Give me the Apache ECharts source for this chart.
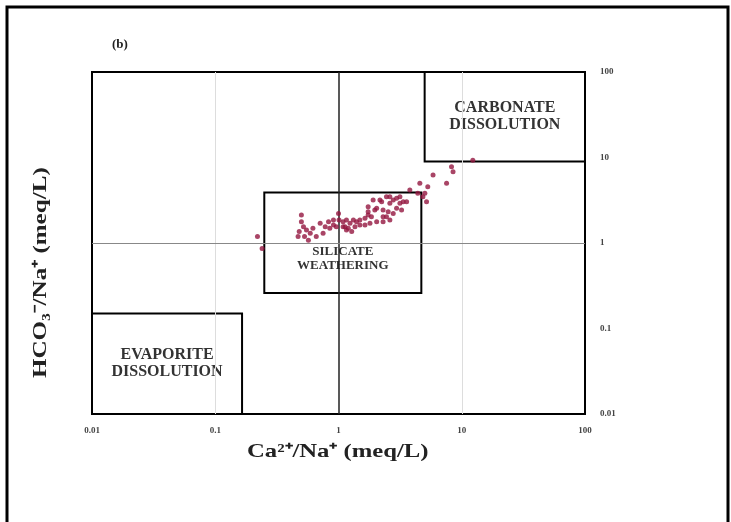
<!DOCTYPE html>
<html>
<head>
<meta charset="utf-8">
<script src="https://cdn.jsdelivr.net/npm/echarts@6/dist/echarts.min.js"></script>
<style>html,body{margin:0;padding:0;background:#fff}#c{width:731px;height:522px}</style>
</head>
<body>
<div id="c"></div>
<script>
// Ca2+/Na+ ratio (x) and HCO3-/Na+ ratio (y) for each sample
const caNa = [0.22,0.24,0.50,0.50,0.52,0.48,0.55,0.59,0.47,0.57,0.53,0.66,0.62,0.71,0.75,0.78,0.83,0.85,0.91,0.91,0.96,1.0,1.01,1.09,1.09,1.16,1.16,1.13,1.20,1.24,1.28,1.32,1.36,1.40,1.49,1.49,1.64,1.64,1.74,1.80,1.85,1.74,1.74,1.91,1.97,2.04,2.04,2.17,2.24,2.30,2.30,2.30,2.45,2.45,2.53,2.61,2.61,2.61,2.78,2.78,2.96,2.96,3.15,3.15,3.25,3.35,3.57,3.79,4.40,4.57,4.84,5.18,5.30,5.02,5.85,7.53,8.26,8.50,12.3];
const hco3Na = [1.19,0.86,2.12,1.77,1.55,1.36,1.42,1.30,1.19,1.08,1.19,1.19,1.49,1.70,1.30,1.55,1.77,1.49,1.62,1.86,1.55,2.22,1.86,1.55,1.77,1.42,1.86,1.55,1.49,1.70,1.36,1.86,1.55,1.77,1.62,1.86,1.62,1.95,2.12,1.70,2.03,2.32,2.66,3.18,2.43,1.77,2.55,3.18,3.04,1.77,2.03,2.43,2.03,3.48,2.32,1.86,2.91,3.48,2.22,3.18,2.55,3.33,2.91,3.48,2.43,3.04,3.04,4.17,3.81,4.99,3.48,3.04,4.56,3.81,6.24,4.99,7.80,6.82,9.3];
const tickLabels = ['0.01','0.1','1','10','100'];
// process boxes: [xMin, xMax, yMin, yMax]
const boxNames = ['CARBONATE\nDISSOLUTION','SILICATE\nWEATHERING','EVAPORITE\nDISSOLUTION'];
const boxX = [[5,100],[0.25,4.7],[0.01,0.165]];
const boxY = [[9,100],[0.26,3.9],[0.01,0.15]];

const points = caNa.map((x,i)=>[x,hco3Na[i]]);
const serif = 'Liberation Serif';
const boxFont = [16,13,16];
const boxOffset = [[0,0],[0,16],[0,0]];

const chart = echarts.init(document.getElementById('c'));
chart.setOption({
  animation:false,
  grid:{left:92,top:72,width:493,height:342,show:true,borderColor:'#000',borderWidth:2,backgroundColor:'transparent'},
  xAxis:{type:'log',logBase:10,min:0.01,max:100,
    axisLine:{show:true,lineStyle:{color:'#000',width:2}},
    axisTick:{show:false},splitLine:{show:false},
    axisLabel:{margin:12,fontFamily:serif,fontWeight:'bold',fontSize:9,color:'#444',
      formatter:(v)=>tickLabels[Math.round(Math.log10(v))+2]}},
  yAxis:{type:'log',logBase:10,min:0.01,max:100,position:'right',
    axisLine:{show:true,lineStyle:{color:'#000',width:2}},
    axisTick:{show:false},splitLine:{show:false},
    axisLabel:{margin:15,fontFamily:serif,fontWeight:'bold',fontSize:9,color:'#444',
      formatter:(v)=>tickLabels[Math.round(Math.log10(v))+2]}},
  graphic:[
    {type:'rect',shape:{x:7,y:7,width:721,height:540},style:{fill:'none',stroke:'#000',lineWidth:3}},
    {type:'text',left:112,top:38,style:{text:'(b)',font:'bold 13px "Liberation Serif"',fill:'#222'}},
    {type:'text',x:247,y:443,scaleX:1.3,style:{text:'Ca²⁺/Na⁺ (meq/L)',font:'bold 19px "Liberation Serif"',fill:'#222'}},
    {type:'text',x:32,y:378,rotation:Math.PI/2,scaleX:1.32,style:{text:'HCO₃⁻/Na⁺ (meq/L)',font:'bold 19px "Liberation Serif"',fill:'#222'}}
  ],
  series:[{
    type:'scatter',
    data:points,
    symbolSize:5,
    itemStyle:{color:'#941740'},
    z:5,
    markLine:{silent:true,symbol:'none',label:{show:false},
      data:[
        {xAxis:0.1,lineStyle:{color:'#ddd',width:1,type:'solid'}},
        {xAxis:10,lineStyle:{color:'#ddd',width:1,type:'solid'}},
        {xAxis:1,lineStyle:{color:'#222',width:1.5,type:'solid'}},
        {yAxis:1,lineStyle:{color:'#888',width:1,type:'solid'}}
      ]},
    markArea:{silent:true,
      data:boxNames.map((n,i)=>[
        {coord:[boxX[i][0],boxY[i][0]],name:n,
          itemStyle:{color:'rgba(255,255,255,0)',borderColor:'#000',borderWidth:2},
          label:{show:true,position:'inside',offset:boxOffset[i],fontFamily:serif,fontWeight:'bold',fontSize:boxFont[i],color:'#333',lineHeight:boxFont[i]+1,align:'center'}},
        {coord:[boxX[i][1],boxY[i][1]]}
      ])}
  }]
});
</script>
</body>
</html>
